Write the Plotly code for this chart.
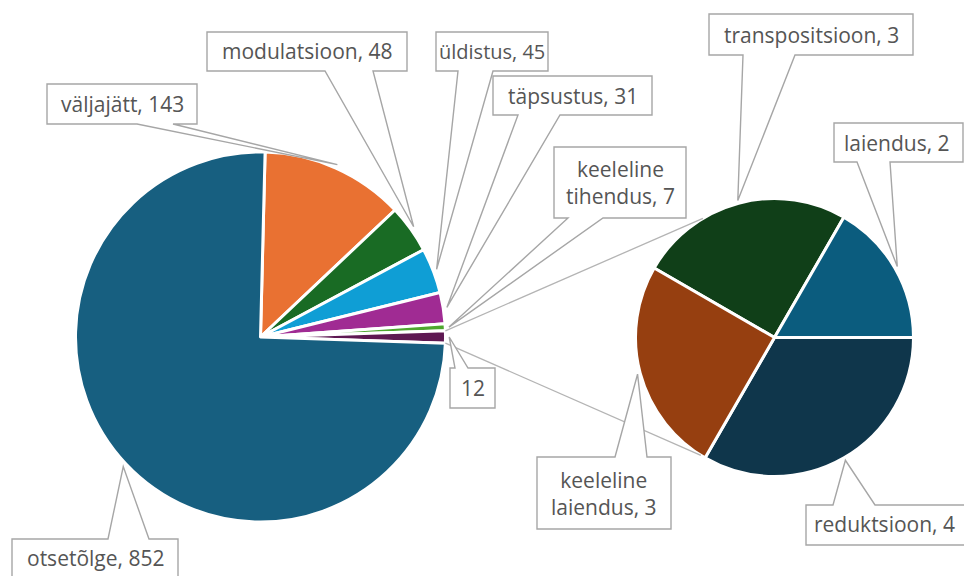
import math
import plotly.graph_objects as go

W, H = 964, 576

# ---- data ----
main_labels = ["väljajätt", "modulatsioon", "üldistus", "täpsustus",
               "keeleline tihendus", "muu", "otsetõlge"]
main_values = [143, 48, 45, 31, 7, 12, 852]
main_colors = ["#E97132", "#196B24", "#0F9ED5", "#A02B93",
               "#4EA72E", "#5E1852", "#175F80"]

sub_labels = ["transpositsioon", "laiendus", "reduktsioon", "keeleline laiendus"]
sub_values = [3, 2, 4, 3]
sub_colors = ["#103F18", "#0B5C7E", "#0F364B", "#963F10"]

main_label_text = ["väljajätt, 143", "modulatsioon, 48", "üldistus, 45", "täpsustus, 31",
                   "keeleline<br>tihendus, 7", "12", "otsetõlge, 852"]
sub_label_text = ["transpositsioon, 3", "laiendus, 2", "reduktsioon, 4",
                  "keeleline<br>laiendus, 3"]

# ---- layout geometry (pixels) ----
MAIN_C, MAIN_R = (260.5, 337.0), 185.0
SUB_C, SUB_R = (774.5, 337.5), 139.0
OTHER_IDX = 5
SUB_ROT = -60.0
SUB_CONN_ANGLES = (329.0, 212.0)

TEXT_COLOR = "#555555"
LINE_COLOR = "#A6A6A6"
FONT = "Open Sans"
FS = 21


def px(x):
    return x / W


def py(y):
    return 1 - y / H


def domain(c, r):
    return dict(x=[px(c[0] - r), px(c[0] + r)], y=[py(c[1] + r), py(c[1] - r)])


def pie_angles(values, rotation):
    tot = sum(values)
    k = 360.0 / tot
    a = rotation
    edges = []
    for v in values:
        edges.append((a, a + v * k))
        a += v * k
    return edges


def point(c, r, ang):
    t = math.radians(ang)
    return (c[0] + r * math.sin(t), c[1] - r * math.cos(t))


main_total = sum(main_values)
main_rot = 90 - (sum(main_values[:OTHER_IDX]) + main_values[OTHER_IDX] / 2) * 360.0 / main_total
main_edges = pie_angles(main_values, main_rot)
sub_edges = pie_angles(sub_values, SUB_ROT)

fig = go.Figure()
fig.add_trace(go.Pie(labels=main_labels, values=main_values, sort=False,
                     direction="clockwise", rotation=main_rot,
                     marker=dict(colors=main_colors, line=dict(color="white", width=3)),
                     textinfo="none", domain=domain(MAIN_C, MAIN_R), showlegend=False))
fig.add_trace(go.Pie(labels=sub_labels, values=sub_values, sort=False,
                     direction="clockwise", rotation=SUB_ROT,
                     marker=dict(colors=sub_colors, line=dict(color="white", width=3)),
                     textinfo="none", domain=domain(SUB_C, SUB_R), showlegend=False))

shapes = []
# connector lines between pies
oa, ob = main_edges[OTHER_IDX]
for ma, sa in ((oa, SUB_CONN_ANGLES[0]), (ob, SUB_CONN_ANGLES[1])):
    p1 = point(MAIN_C, MAIN_R, ma)
    p2 = point(SUB_C, SUB_R, sa)
    shapes.append(dict(type="line", xref="paper", yref="paper",
                       x0=px(p1[0]), y0=py(p1[1]), x1=px(p2[0]), y1=py(p2[1]),
                       line=dict(color="#B4B4B4", width=1.3), layer="above"))

# callout boxes: (box x0,y0,x1,y1, wedge b1,b2, side)
main_boxes = [
    (47, 84, 197, 124, 137, 173, "bottom"),
    (207, 32, 407, 71, 325, 373, "bottom"),
    (436, 32, 548, 71, 458, 493, "bottom"),
    (493, 76, 652, 115, 518, 560, "bottom"),
    (554, 147, 686, 218, 568, 603, "bottom"),
    (450, 368, 495, 408, 455, 468, "top"),
    (12, 539, 178, 580, 108, 149, "top"),
]
sub_boxes = [
    (709, 14, 913, 55, 743, 795, "bottom"),
    (834, 123, 963, 162, 857, 890, "bottom"),
    (806, 505, 975, 545, 833, 875, "top"),
    (537, 457, 671, 529, 615, 647, "top"),
]
# text centre overrides (x, y) for boxes cut by the picture edge
main_text_pos = {6: (95, 558)}
sub_text_pos = {1: (897, 142.5), 2: (884, 524)}
main_text_size = {2: 20}


def callout(box, tip, text, pos=None, size=FS):
    x0, y0, x1, y1, b1, b2, side = box
    if side == "bottom":
        pts = [(x0, y0), (x1, y0), (x1, y1), (b2, y1), tip, (b1, y1), (x0, y1)]
    else:
        pts = [(x0, y0), (b1, y0), tip, (b2, y0), (x1, y0), (x1, y1), (x0, y1)]
    path = "M " + " L ".join(f"{px(a):.5f},{py(b):.5f}" for a, b in pts) + " Z"
    shapes.append(dict(type="path", xref="paper", yref="paper", path=path,
                       fillcolor="white", line=dict(color=LINE_COLOR, width=1.4),
                       layer="above"))
    cx, cy = ((x0 + x1) / 2, (y0 + y1) / 2) if pos is None else pos
    return dict(x=px(cx), y=py(cy), xref="paper", yref="paper",
                text=text, showarrow=False, xanchor="center", yanchor="middle",
                font=dict(family=FONT, size=size, color=TEXT_COLOR))


annotations = []
for i, box in enumerate(main_boxes):
    a = sum(main_edges[i]) / 2
    tip = point(MAIN_C, MAIN_R * 1.02, a)
    annotations.append(callout(box, tip, main_label_text[i], main_text_pos.get(i),
                               main_text_size.get(i, FS)))
for i, box in enumerate(sub_boxes):
    a = sum(sub_edges[i]) / 2
    tip = point(SUB_C, SUB_R * 1.02, a)
    annotations.append(callout(box, tip, sub_label_text[i], sub_text_pos.get(i)))

fig.update_layout(width=W, height=H, margin=dict(l=0, r=0, t=0, b=0),
                  paper_bgcolor="white", plot_bgcolor="white",
                  shapes=shapes, annotations=annotations,
                  font=dict(family=FONT, color=TEXT_COLOR))
fig.write_html("out.html",
               config={"displayModeBar": False},
               post_script="document.body.style.margin='0';"
                           "document.body.style.overflow='hidden';")
